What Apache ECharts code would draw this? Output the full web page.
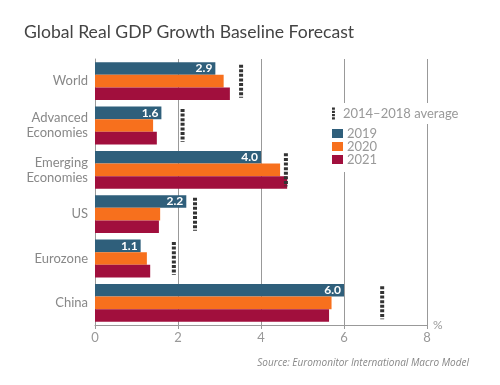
<!DOCTYPE html>
<html><head><meta charset="utf-8">
<script src="https://cdn.jsdelivr.net/npm/echarts@6/dist/echarts.min.js"></script>
<style>html,body{margin:0;padding:0;background:#fff;}#c{width:500px;height:385px;}</style>
</head><body><div id="c"></div>
<script>
var categories = ['World', 'Advanced\nEconomies', 'Emerging\nEconomies', 'US', 'Eurozone', 'China'];
var values2019 = [2.9, 1.6, 4.0, 2.2, 1.1, 6.0];
var values2020 = [3.1, 1.4, 4.46, 1.57, 1.25, 5.7];
var values2021 = [3.25, 1.49, 4.63, 1.54, 1.33, 5.64];
var average1418 = [3.52, 2.11, 4.6, 2.41, 1.9, 6.92];
var xTicks = [0, 2, 4, 6, 8];

var chart = echarts.init(document.getElementById('c'), null, {renderer: 'canvas'});
var font = 'Lato, "Open Sans", sans-serif';
var avgData = average1418.map(function (v, i) { return [v, i]; });
var dotIcon = 'path://M0,0h4v3h-4z M0,4.5h4v3h-4z M0,9h4v3h-4z M0,13.5h4v3h-4z';
var avgName = '2014\u20132018 average';

chart.setOption({
  animation: false,
  textStyle: {fontFamily: font},
  title: {
    text: 'Global Real GDP Growth Baseline Forecast',
    left: 19, top: 18,
    textStyle: {fontSize: 17.6, fontWeight: 'normal', color: '#444', fontFamily: font}
  },
  graphic: [{
    type: 'text', right: 31, top: 358,
    style: {text: 'Source: Euromonitor International Macro Model', fill: '#888', font: 'italic 10px "Open Sans", sans-serif'}
  }],
  legend: [{
    orient: 'vertical', left: 328, top: 103,
    itemWidth: 11, itemHeight: 12,
    backgroundColor: '#fff', padding: [4, 4, 4, 4],
    textStyle: {color: '#999', fontSize: 13, fontFamily: font, padding: [0, 0, 0, -1]},
    data: [{name: avgName, icon: dotIcon, itemStyle: {color: '#333'}}]
  }, {
    orient: 'vertical', left: 328, top: 123,
    itemWidth: 11, itemHeight: 9, itemGap: 0,
    backgroundColor: '#fff', padding: [4, 4, 6, 4],
    textStyle: {color: '#999', fontSize: 13, lineHeight: 12.7, fontFamily: font, padding: [0, 0, 0, -1]},
    data: [{name: '2019', icon: 'rect'}, {name: '2020', icon: 'rect'}, {name: '2021', icon: 'rect'}]
  }],
  grid: {left: 95, right: 73, top: 59, bottom: 60, containLabel: false},
  xAxis: {
    type: 'value', min: 0, max: 8, interval: 2,
    name: '%', nameLocation: 'end', nameGap: 6,
    nameTextStyle: {color: '#999', fontSize: 12, verticalAlign: 'middle', padding: [0, 0, 0, 0]},
    axisLine: {show: true, lineStyle: {color: '#999', width: 1}},
    axisTick: {show: true, length: 4, lineStyle: {color: '#999'}},
    axisLabel: {color: '#999', fontSize: 13, margin: 6},
    splitLine: {show: true, lineStyle: {color: '#999', width: 1}}
  },
  yAxis: {
    type: 'category', data: categories, inverse: true,
    axisLine: {show: true, lineStyle: {color: '#999'}},
    axisTick: {show: false},
    axisLabel: {color: '#888', fontSize: 13, margin: 7, lineHeight: 15, align: 'right'}
  },
  series: [
    {
      name: '2019', type: 'bar', data: values2019, barWidth: 12.6, barGap: '0%',
      itemStyle: {color: '#2f5f7b'},
      label: {show: true, position: 'insideRight', color: '#fff', fontWeight: 'bold', fontSize: 12, offset: [2, 0],
        formatter: function (p) { return p.value.toFixed(1); }}
    },
    {name: '2020', type: 'bar', data: values2020, barWidth: 12.6, barGap: '0%', itemStyle: {color: '#f7701d'}},
    {name: '2021', type: 'bar', data: values2021, barWidth: 12.6, barGap: '0%', itemStyle: {color: '#a10f3d'}},
    {
      name: avgName, type: 'custom', data: avgData,
      itemStyle: {color: '#333'},
      encode: {x: 0, y: 1},
      z: 5,
      renderItem: function (params, api) {
        var c = api.coord([api.value(0), api.value(1)]);
        var h = 33;
        return {
          type: 'line',
          shape: {x1: c[0], y1: c[1] - h / 2, x2: c[0], y2: c[1] + h / 2},
          style: {stroke: '#333', lineWidth: 4, lineDash: [3, 1.6]}
        };
      }
    }
  ]
});
</script></body></html>
